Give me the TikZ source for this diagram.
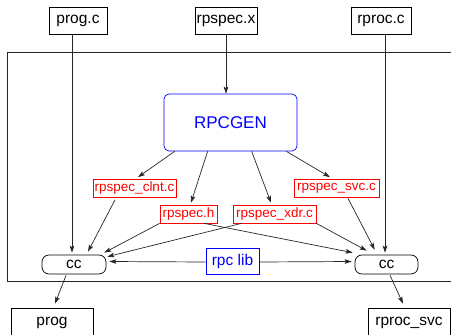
\documentclass[tikz,border=0pt]{standalone}
\usepackage{fontspec}
\setmainfont{Liberation Sans}
\usetikzlibrary{arrows.meta}
\begin{document}
\begin{tikzpicture}[x=1pt,y=-1pt,
  box/.style={draw=black,line width=0.7pt,inner sep=0pt,font=\fontsize{15.5}{18}\selectfont},
  redbox/.style={draw=red,line width=0.7pt,inner sep=0pt,text=red,minimum height=18pt,font=\fontsize{13.5}{16}\selectfont},
  ccbox/.style={draw=black,line width=0.7pt,rounded corners=7pt,inner sep=0pt,minimum height=19pt,font=\fontsize{15.5}{18}\selectfont},
  arr/.style={draw=black!85,line width=0.7pt,-{Stealth[length=7pt,width=4.6pt,inset=1.5pt]}},
  ln/.style={draw=black!85,line width=0.7pt}]
\useasboundingbox (0,0) rectangle (451,335);
\clip (0,0) rectangle (451,335);
% frame
\draw[line width=0.8pt,black!85] (7,52) rectangle (470,281);
% top boxes
\node[box,minimum width=58pt,minimum height=27pt] (progc) at (78,20.5) {prog.c};
\node[box,minimum width=62pt,minimum height=27pt] (rpspecx) at (226,20.5) {rpspec.x};
\node[box,minimum width=60pt,minimum height=27pt] (rprocc) at (381,20.5) {rproc.c};
% rpcgen
\node[draw=blue,line width=0.7pt,rounded corners=5pt,text=blue,inner sep=0pt,
  minimum width=133pt,minimum height=57pt,font=\fontsize{17}{20}\selectfont] (rpcgen) at (230.5,122.5) {RPCGEN};
% generated files
\node[redbox,minimum width=83pt] (clnt) at (134.5,188) {rpspec\_clnt.c};
\node[redbox,minimum width=85pt] (svc) at (336.5,188) {rpspec\_svc.c};
\node[redbox,minimum width=57pt] (hdr) at (188.5,214) {rpspec.h};
\node[redbox,minimum width=83pt] (xdr) at (274.5,214) {rpspec\_xdr.c};
% cc
\node[ccbox,minimum width=64pt] (ccl) at (74,264.5) {cc};
\node[ccbox,minimum width=63pt] (ccr) at (386.5,264.5) {cc};
\node[draw=blue,line width=0.7pt,text=blue,inner sep=0pt,minimum width=53pt,minimum height=26pt,
  font=\fontsize{15.5}{18}\selectfont] (rpclib) at (232.5,261.5) {rpc lib};
% outputs
\node[box,minimum width=82pt,minimum height=30pt] (prog) at (52,323) {prog};
\node[box,minimum width=82pt,minimum height=30pt] (rsvc) at (409,323) {rproc\_svc};
% connectors
\draw[arr] ([xshift=-6pt]progc.south) -- ([xshift=-2pt,yshift=2pt]ccl.north);
\draw[arr] (rpspecx.south) -- ([xshift=-4.5pt]rpcgen.north);
\draw[arr] ([xshift=4pt]rprocc.south) -- ([xshift=-1.5pt,yshift=2pt]ccr.north);
\draw[arr] ([xshift=11pt]rpcgen.south west) -- ([xshift=3.5pt,yshift=1.5pt]clnt.north);
\draw[arr] ([xshift=44pt]rpcgen.south west) -- ([xshift=2.5pt,yshift=2pt]hdr.north);
\draw[arr] ([xshift=88pt]rpcgen.south west) -- ([xshift=-3.5pt,yshift=2pt]xdr.north);
\draw[arr] ([xshift=-11pt]rpcgen.south east) -- ([xshift=-6.5pt,yshift=1.5pt]svc.north);
\draw[arr] ([xshift=-19.5pt,yshift=-2.5pt]clnt.south) -- ([xshift=14pt,yshift=3pt]ccl.north);
\draw[arr] (hdr.south west) -- ([xshift=-2pt,yshift=2pt]ccl.north east);
\draw[arr] ([xshift=9pt]xdr.south west) -- ([xshift=1pt,yshift=-2pt]ccl.north east);
\draw[arr] ([xshift=15.5pt]hdr.south) -- ([xshift=-2pt,yshift=2pt]ccr.north west);
\draw[arr] (xdr.south east) -- ([xshift=12pt,yshift=4pt]ccr.north west);
\draw[arr] ([xshift=11.5pt,yshift=-1pt]svc.south) -- ([xshift=20pt,yshift=5pt]ccr.north west);
\draw[arr] ([yshift=-0.5pt]rpclib.west) -- ([xshift=3pt]ccl.east |- rpclib.west);
\draw[arr] ([yshift=-0.5pt]rpclib.east) -- ([xshift=-3pt]ccr.west |- rpclib.east);
\draw[arr] ([xshift=-8pt,yshift=-1pt]ccl.south) -- ([xshift=3pt,yshift=4pt]prog.north);
\draw[arr] ([xshift=3.5pt,yshift=-1pt]ccr.south) -- ([xshift=-6pt,yshift=4pt]rsvc.north);
\end{tikzpicture}
\end{document}
